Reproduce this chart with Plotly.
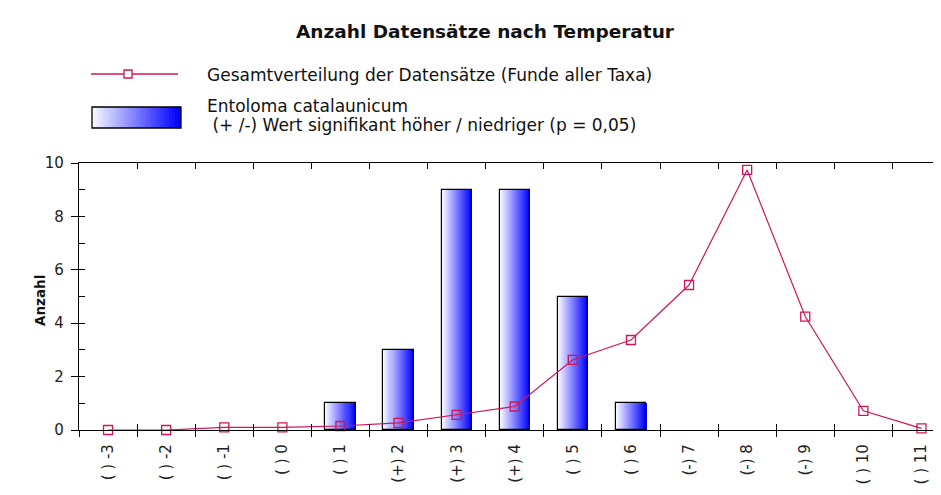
import plotly.graph_objects as go

# ---- data ----
categories = ["( ) -3", "( ) -2", "( ) -1", "( ) 0", "( ) 1", "(+) 2", "(+) 3", "(+) 4",
              "( ) 5", "( ) 6", "(-) 7", "(-) 8", "(-) 9", "( ) 10", "( ) 11"]
species_counts = [None, None, None, None, 1, 3, 9, 9, 5, 1, None, None, None, None, None]
overall_distribution = [0, 0, 0.1, 0.1, 0.15, 0.27, 0.57, 0.88, 2.63, 3.37, 5.43, 9.74, 4.25, 0.72, 0.06]
y_ticks = [0, 2, 4, 6, 8, 10]

title_text = "Anzahl Datensätze nach Temperatur"
legend_line_text = "Gesamtverteilung der Datensätze (Funde aller Taxa)"
legend_bar_text1 = "Entoloma catalaunicum"
legend_bar_text2 = " (+ /-) Wert signifikant höher / niedriger (p = 0,05)"

# ---- geometry / style ----
OFF = 8                      # page body margin of the html page
W, H = 941 - OFF, 495 - OFF
AX_L, AX_T, AX_B = 79, 163, 430   # target screen pixels of the plot frame
ML, MT = AX_L - OFF, AX_T - OFF
MR, MB = 0, H - (AX_B - OFF)
PW, PH = W - ML - MR, H - MT - MB
FONT = "DejaVu Sans, Liberation Sans, sans-serif"
RED = "#d2145a"
LIGHT = (246, 246, 255)
BLUE = (0, 0, 255)
BAR_W = 0.52
N_STRIPES = 30


def px(x):
    return (x - AX_L) / PW


def py(y):
    return (AX_B - y) / PH


def mix(t):
    r = round(LIGHT[0] + (BLUE[0] - LIGHT[0]) * t)
    g = round(LIGHT[1] + (BLUE[1] - LIGHT[1]) * t)
    b = round(LIGHT[2] + (BLUE[2] - LIGHT[2]) * t)
    return f"rgb({r},{g},{b})"


fig = go.Figure()

# gradient bars: overlapping stripes, each starting further right and darker
for i in range(N_STRIPES):
    t = i / (N_STRIPES - 1)
    fig.add_trace(go.Bar(
        x=categories, y=species_counts,
        offset=-BAR_W / 2 + i * BAR_W / N_STRIPES,
        width=BAR_W - i * BAR_W / N_STRIPES,
        marker=dict(color=mix(t), line=dict(width=0)),
        showlegend=False, hoverinfo="skip",
    ))
# bar outline
fig.add_trace(go.Bar(
    x=categories, y=species_counts, offset=-BAR_W / 2, width=BAR_W,
    marker=dict(color="rgba(0,0,0,0)", line=dict(color="black", width=1.2)),
    showlegend=False, name="Entoloma catalaunicum",
))

fig.add_trace(go.Scatter(
    x=categories, y=overall_distribution, mode="lines+markers",
    line=dict(color=RED, width=1.2),
    marker=dict(symbol="square-open", size=9, color=RED, line=dict(width=1.3, color=RED)),
    showlegend=False, cliponaxis=False, name=legend_line_text,
))

# dummy trace to create the overlay axes (inner ticks / top frame)
fig.add_trace(go.Scatter(x=[categories[0]], y=[None], xaxis="x2", yaxis="y2",
                         showlegend=False, hoverinfo="skip"))

xr = [-0.5, -0.5 + PW / 58.1]
common_x = dict(type="category", categoryorder="array", categoryarray=categories,
                range=xr, tickson="boundaries", showgrid=False, zeroline=False,
                showline=True, linecolor="black", linewidth=1.2, tickcolor="black",
                tickwidth=1.2, ticklen=6, automargin=False)

fig.update_layout(
    width=W, height=H,
    margin=dict(l=ML, r=MR, t=MT, b=MB),
    paper_bgcolor="white", plot_bgcolor="white",
    barmode="overlay", bargap=0,
    font=dict(family=FONT, color="#1a1a1a"),
    xaxis=dict(**common_x, ticks="outside", tickangle=-90,
               tickfont=dict(size=15, color="#222"), ticklabelstandoff=7),
    xaxis2=dict(**common_x, ticks="inside", mirror="ticks", overlaying="x",
                anchor="y2", showticklabels=False),
    yaxis=dict(range=[0, 10], tickvals=y_ticks, ticks="outside", ticklen=7,
               tickwidth=1.2, tickcolor="black", showline=True, linecolor="black",
               linewidth=1.2, showgrid=False, zeroline=False,
               tickfont=dict(size=15, color="#222"), ticklabelstandoff=4,
               automargin=False),
    yaxis2=dict(range=[0, 10], dtick=1, tick0=0, ticks="inside", ticklen=6,
                tickwidth=1.2, tickcolor="black", showline=False, showgrid=False,
                zeroline=False, showticklabels=False, overlaying="y", anchor="x2"),
    title=dict(text=f"<b>{title_text}</b>", x=px(485), xref="paper", xanchor="center",
               y=1 - (32 - OFF) / H, yref="container", yanchor="middle",
               font=dict(size=18.5, color="#111", family=FONT)),
    showlegend=False,
)

annotations = [
    dict(text="<b>Anzahl</b>", x=px(40), y=py(301), xref="paper", yref="paper",
         xanchor="center", yanchor="middle",
         textangle=-90, showarrow=False, font=dict(size=13.5, color="#111")),
    dict(text=legend_line_text, x=px(205), y=py(75), xref="paper", yref="paper",
         xanchor="left", yanchor="middle", showarrow=False, font=dict(size=17, color="#111")),
    dict(text=legend_bar_text1, x=px(205), y=py(106), xref="paper", yref="paper",
         xanchor="left", yanchor="middle", showarrow=False, font=dict(size=17, color="#111")),
    dict(text=legend_bar_text2, x=px(205), y=py(125), xref="paper", yref="paper",
         xanchor="left", yanchor="middle", showarrow=False, font=dict(size=17, color="#111")),
]

shapes = [
    dict(type="line", xref="paper", yref="paper", x0=px(91), x1=px(178), y0=py(74), y1=py(74),
         line=dict(color=RED, width=1.3)),
    dict(type="rect", xref="paper", yref="paper", x0=px(124), x1=px(132), y0=py(70), y1=py(78),
         fillcolor="white", line=dict(color=RED, width=1.3)),
]
bx0, bx1, by0, by1 = 92, 181, 107, 128
for i in range(N_STRIPES):
    t = i / (N_STRIPES - 1)
    shapes.append(dict(type="rect", xref="paper", yref="paper",
                       x0=px(bx0 + i * (bx1 - bx0) / N_STRIPES), x1=px(bx1),
                       y0=py(by0), y1=py(by1), fillcolor=mix(t), line=dict(width=0)))
shapes.append(dict(type="rect", xref="paper", yref="paper", x0=px(bx0), x1=px(bx1),
                   y0=py(by0), y1=py(by1), line=dict(color="black", width=1.3)))

fig.update_layout(annotations=annotations, shapes=shapes)

fig.write_html("out.html")
